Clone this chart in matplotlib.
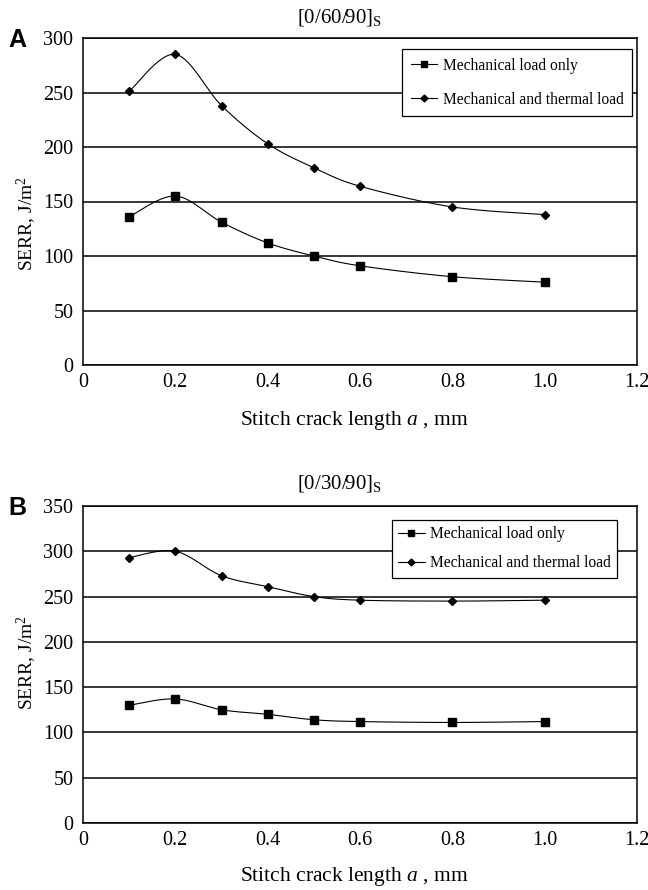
import numpy as np
import matplotlib
matplotlib.use("Agg")
import matplotlib.pyplot as plt
from matplotlib.lines import Line2D

plt.rcParams['font.family'] = ['Liberation Serif', 'DejaVu Serif']
plt.rcParams['mathtext.fontset'] = 'custom'
plt.rcParams['mathtext.rm'] = 'Liberation Serif'
plt.rcParams['mathtext.it'] = 'Liberation Serif:italic'

crack_length = [0.1, 0.2, 0.3, 0.4, 0.5, 0.6, 0.8, 1.0]

a_mech = [136, 155, 131, 112, 100, 91, 81, 76]
a_therm = [251, 285, 238, 203, 181, 164, 145, 138]

b_mech = [130, 137, 125, 120, 114, 112, 111, 112]
b_therm = [293, 300, 273, 261, 250, 246, 245, 246]

label_mech = "Mechanical load only"
label_therm = "Mechanical and thermal load"


def smooth(x, y, n=30):
    """Excel-style Bezier smoothing through the data points."""
    x = np.asarray(x, float)
    y = np.asarray(y, float)
    P = np.column_stack([x, y])
    m = len(P)
    out = []
    t = np.linspace(0, 1, n)[:, None]
    for i in range(m - 1):
        p0 = P[i]
        p3 = P[i + 1]
        pm = P[i - 1] if i > 0 else P[i]
        pp = P[i + 2] if i + 2 < m else P[i + 1]
        c1 = p0 + (p3 - pm) / 6.0
        c2 = p3 - (pp - p0) / 6.0
        seg = ((1 - t) ** 3) * p0 + 3 * ((1 - t) ** 2) * t * c1 + 3 * (1 - t) * t ** 2 * c2 + t ** 3 * p3
        out.append(seg if i == 0 else seg[1:])
    S = np.vstack(out)
    return S[:, 0], S[:, 1]


W, H = 648, 890
fig = plt.figure(figsize=(W / 100, H / 100), dpi=100)

panels = [
    dict(rect=[83/W, 1-365/H, 554/W, 327/H], mech=a_mech, therm=a_therm,
         ymax=300, title=r"[0/60/90]$_\mathregular{S}$", letter="A",
         leg_anchor=(0.991, 0.966), labelspacing=1.15, borderpad=0.55,
         title_y=1-18/H, letter_y=1-40/H, xlabel_y=1-421/H, ylabel_y=1-224/H),
    dict(rect=[83/W, 1-823/H, 554/W, 317/H], mech=b_mech, therm=b_therm,
         ymax=350, title=r"[0/30/90]$_\mathregular{S}$", letter="B",
         leg_anchor=(0.964, 0.956), labelspacing=0.85, borderpad=0.4,
         title_y=1-483/H, letter_y=1-508/H, xlabel_y=1-877/H, ylabel_y=1-663/H),
]

for p in panels:
    ax = fig.add_axes(p['rect'])
    for ys, mk, ms in [(p['mech'], 's', 5.2), (p['therm'], 'D', 3.8)]:
        sx, sy = smooth(crack_length, ys)
        ax.plot(sx, sy, color='black', lw=0.8, zorder=3)
        ax.plot(crack_length, ys, linestyle='none', marker=mk, markersize=ms,
                color='black', zorder=4)
    ax.set_xlim(0, 1.2)
    ax.set_ylim(0, p['ymax'])
    ax.set_xticks([0, 0.2, 0.4, 0.6, 0.8, 1.0, 1.2])
    ax.set_xticklabels(["0", "0.2", "0.4", "0.6", "0.8", "1.0", "1.2"])
    ax.set_yticks(np.arange(0, p['ymax'] + 1, 50))
    ax.yaxis.grid(True, color='black', lw=1.1)
    ax.set_axisbelow(True)
    ax.tick_params(length=0, labelsize=14.5)
    ax.tick_params(axis='y', pad=7)
    ax.tick_params(axis='x', pad=6)
    for s in ax.spines.values():
        s.set_linewidth(1.1)
        s.set_color('black')
    fig.text(27/W, p['ylabel_y'], r"SERR, J/m$^\mathregular{2}$", fontsize=14,
             rotation=90, ha='center', va='center')
    fig.text(354/W, p['xlabel_y'], r"Stitch crack length $a$ , mm", fontsize=15.5,
             ha='center', va='center')
    fig.text(340/W, p['title_y'], p['title'], fontsize=15, ha='center', va='center')
    fig.text(8/W, p['letter_y'], p['letter'], fontsize=18, fontweight='bold',
             family='Liberation Sans', ha='left', va='center')
    handles = [
        Line2D([], [], color='black', lw=0.8, marker='s', markersize=4.5),
        Line2D([], [], color='black', lw=0.8, marker='D', markersize=3.5),
    ]
    leg = ax.legend(handles, [label_mech, label_therm], loc='upper right',
                    bbox_to_anchor=p['leg_anchor'], fontsize=11.2, frameon=True,
                    fancybox=False, framealpha=1, edgecolor='black',
                    handlelength=1.7, handletextpad=0.35, labelspacing=p['labelspacing'],
                    borderpad=p['borderpad'], borderaxespad=0)
    leg.get_frame().set_linewidth(0.9)

fig.savefig("out.png", dpi=100)
